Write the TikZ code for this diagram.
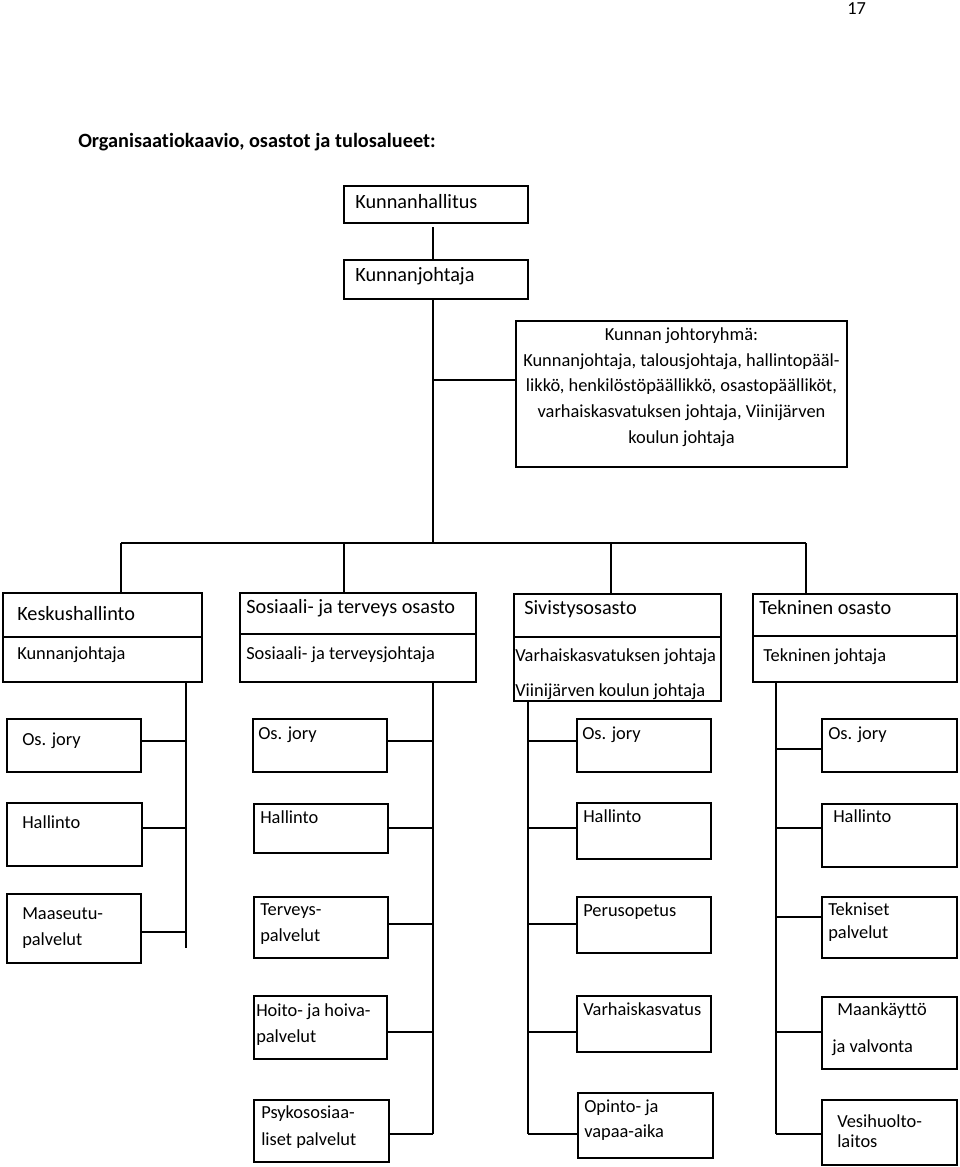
\documentclass[tikz,border=0pt]{standalone}
\usepackage{fontspec}
\setmainfont{Carlito}[Ligatures=NoCommon]
\usetikzlibrary{fit}
\tikzset{
  bx/.style={draw, line width=1.1pt, inner sep=0pt, rectangle},
  ln/.style={line width=1.1pt},
  big/.style={inner sep=0pt, anchor=base west, font=\fontsize{15.2}{18}\selectfont},
  sm/.style={inner sep=0pt, anchor=base west, font=\fontsize{13.8}{16}\selectfont},
  smc/.style={inner sep=0pt, anchor=base, font=\fontsize{13.8}{16}\selectfont},
  ttl/.style={inner sep=0pt, anchor=base west, font=\fontsize{15.2}{18}\selectfont\bfseries},
}
\newcommand\ubox[5]{\node[bx, fit={(#2,#3) (#4,#5)}] (#1) {};}
\newcommand\utxt[5]{\node[#2] (#1) at (#3,#4) {#5};}
\begin{document}
\begin{tikzpicture}[x=0.75pt,y=-0.75pt]
\useasboundingbox (0,0) rectangle (960,1167);

% page number and title
\utxt{pg}{sm}{847}{14}{17}
\utxt{title}{ttl}{78}{147}{Organisaatiokaavio, osastot ja tulosalueet:}

% top boxes
\ubox{kh}{344}{186}{528}{223}
\utxt{khT}{big}{355}{208}{Kunnanhallitus}
\ubox{kj}{344}{260}{528}{299}
\utxt{kjT}{big}{355}{281}{Kunnanjohtaja}
\ubox{jr}{516}{321}{847}{467}
\utxt{jr1}{smc}{681.5}{340}{Kunnan johtoryhmä:}
\utxt{jr2}{smc}{681.5}{366}{Kunnanjohtaja, talousjohtaja, hallintopääl-}
\utxt{jr3}{smc}{681.5}{391}{likkö, henkilöstöpäällikkö, osastopäälliköt,}
\utxt{jr4}{smc}{681.5}{417}{varhaiskasvatuksen johtaja, Viinijärven}
\utxt{jr5}{smc}{681.5}{443}{koulun johtaja}

% trunk
\coordinate (t1) at (433,227);
\coordinate (t2) at (433,543);
\coordinate (br) at (433,380);
\draw[ln] (t1) -- (t1 |- kj.north);
\draw[ln] (t1 |- kj.south) -- (t2);
\draw[ln] (br) -- (br -| jr.west);

% bus
\coordinate (b1) at (121,543);
\coordinate (b2) at (344,543);
\coordinate (b3) at (611,543);
\coordinate (b4) at (806,543);
\draw[ln] (b1) -- (b4);

% department boxes
\ubox{kesk}{3}{593}{202}{682}
\ubox{sos}{240}{593}{476}{682}
\ubox{siv}{514}{594}{721}{701}
\ubox{tek}{753}{594}{957}{682}
\draw[ln] (b1) -- (b1 |- kesk.north);
\draw[ln] (b2) -- (b2 |- sos.north);
\draw[ln] (b3) -- (b3 |- siv.north);
\draw[ln] (b4) -- (b4 |- tek.north);
\coordinate (d1) at (0,637);
\coordinate (d2) at (0,634);
\coordinate (d3) at (0,637);
\coordinate (d4) at (0,636);
\draw[ln] (kesk.west |- d1) -- (kesk.east |- d1);
\draw[ln] (sos.west |- d2) -- (sos.east |- d2);
\draw[ln] (siv.west |- d3) -- (siv.east |- d3);
\draw[ln] (tek.west |- d4) -- (tek.east |- d4);
\utxt{keskA}{big}{17}{620}{Keskushallinto}
\utxt{keskB}{sm}{17}{659}{Kunnanjohtaja}
\utxt{sosA}{big}{246}{613}{Sosiaali- ja terveys osasto}
\utxt{sosB}{sm}{246}{659}{Sosiaali- ja terveysjohtaja}
\utxt{sivA}{big}{524}{614}{Sivistysosasto}
\utxt{sivB}{sm}{515}{661}{Varhaiskasvatuksen johtaja}
\utxt{sivC}{sm}{515}{696}{Viinijärven koulun johtaja}
\utxt{tekA}{big}{759}{614}{Tekninen osasto}
\utxt{tekB}{sm}{763}{661}{Tekninen johtaja}

% spines
\coordinate (s1b) at (186,948);
\coordinate (s2b) at (433,1134);
\coordinate (s3b) at (528,1134);
\coordinate (s4b) at (776,1134);
\draw[ln] (s1b |- kesk.south) -- (s1b);
\draw[ln] (s2b |- sos.south) -- (s2b);
\draw[ln] (s3b |- siv.south) -- (s3b);
\draw[ln] (s4b |- tek.south) -- (s4b);

% column 1
\ubox{oj1}{7}{719}{141}{772}
\utxt{oj1T}{sm}{22}{745}{Os. jory}
\ubox{ha1}{7}{803}{142}{866}
\utxt{ha1T}{sm}{22}{828}{Hallinto}
\ubox{ma1}{7}{894}{141}{963}
\utxt{ma1A}{sm}{22}{919}{Maaseutu-}
\utxt{ma1B}{sm}{22}{945}{palvelut}
\coordinate (j11) at (186,741);
\coordinate (j12) at (186,828);
\coordinate (j13) at (186,932);
\draw[ln] (j11) -- (j11 -| oj1.east);
\draw[ln] (j12) -- (j12 -| ha1.east);
\draw[ln] (j13) -- (j13 -| ma1.east);

% column 2
\ubox{oj2}{253}{719}{387}{772}
\utxt{oj2T}{sm}{258}{739}{Os. jory}
\ubox{ha2}{254}{804}{388}{853}
\utxt{ha2T}{sm}{260}{823}{Hallinto}
\ubox{te2}{254}{897}{388}{958}
\utxt{te2A}{sm}{260}{915}{Terveys-}
\utxt{te2B}{sm}{260}{941}{palvelut}
\ubox{ho2}{254}{996}{387}{1059}
\utxt{ho2A}{sm}{256}{1016}{Hoito- ja hoiva-}
\utxt{ho2B}{sm}{256}{1042}{palvelut}
\ubox{ps2}{254}{1100}{389}{1162}
\utxt{ps2A}{sm}{261}{1118}{Psykososiaa-}
\utxt{ps2B}{sm}{261}{1145}{liset palvelut}
\coordinate (j21) at (433,741);
\coordinate (j22) at (433,828);
\coordinate (j23) at (433,924);
\coordinate (j24) at (433,1032);
\coordinate (j25) at (433,1134);
\draw[ln] (j21) -- (j21 -| oj2.east);
\draw[ln] (j22) -- (j22 -| ha2.east);
\draw[ln] (j23) -- (j23 -| te2.east);
\draw[ln] (j24) -- (j24 -| ho2.east);
\draw[ln] (j25) -- (j25 -| ps2.east);

% column 3
\ubox{oj3}{577}{719}{711}{772}
\utxt{oj3T}{sm}{582}{739}{Os. jory}
\ubox{ha3}{577}{803}{711}{859}
\utxt{ha3T}{sm}{583}{822}{Hallinto}
\ubox{pe3}{577}{897}{711}{953}
\utxt{pe3T}{sm}{583}{916}{Perusopetus}
\ubox{va3}{577}{996}{711}{1052}
\utxt{va3T}{sm}{583}{1015}{Varhaiskasvatus}
\ubox{op3}{578}{1093}{713}{1158}
\utxt{op3A}{sm}{584}{1112}{Opinto- ja}
\utxt{op3B}{sm}{584}{1137}{vapaa-aika}
\coordinate (j31) at (528,741);
\coordinate (j32) at (528,828);
\coordinate (j33) at (528,924);
\coordinate (j34) at (528,1032);
\coordinate (j35) at (528,1134);
\draw[ln] (j31) -- (j31 -| oj3.west);
\draw[ln] (j32) -- (j32 -| ha3.west);
\draw[ln] (j33) -- (j33 -| pe3.west);
\draw[ln] (j34) -- (j34 -| va3.west);
\draw[ln] (j35) -- (j35 -| op3.west);

% column 4
\ubox{oj4}{822}{719}{957}{772}
\utxt{oj4T}{sm}{828}{739}{Os. jory}
\ubox{ha4}{822}{804}{957}{867}
\utxt{ha4T}{sm}{833}{822}{Hallinto}
\ubox{tk4}{822}{897}{957}{958}
\utxt{tk4A}{sm}{828}{915}{Tekniset}
\utxt{tk4B}{sm}{828}{938}{palvelut}
\ubox{mk4}{822}{997}{957}{1069}
\utxt{mk4A}{sm}{837}{1015}{Maankäyttö}
\utxt{mk4B}{sm}{832}{1052}{ja valvonta}
\ubox{ve4}{822}{1100}{957}{1165}
\utxt{ve4A}{sm}{837}{1127}{Vesihuolto-}
\utxt{ve4B}{sm}{837}{1147}{laitos}
\coordinate (j41) at (776,749);
\coordinate (j42) at (776,828);
\coordinate (j43) at (776,917);
\coordinate (j44) at (776,1032);
\coordinate (j45) at (776,1134);
\draw[ln] (j41) -- (j41 -| oj4.west);
\draw[ln] (j42) -- (j42 -| ha4.west);
\draw[ln] (j43) -- (j43 -| tk4.west);
\draw[ln] (j44) -- (j44 -| mk4.west);
\draw[ln] (j45) -- (j45 -| ve4.west);
\end{tikzpicture}
\end{document}
